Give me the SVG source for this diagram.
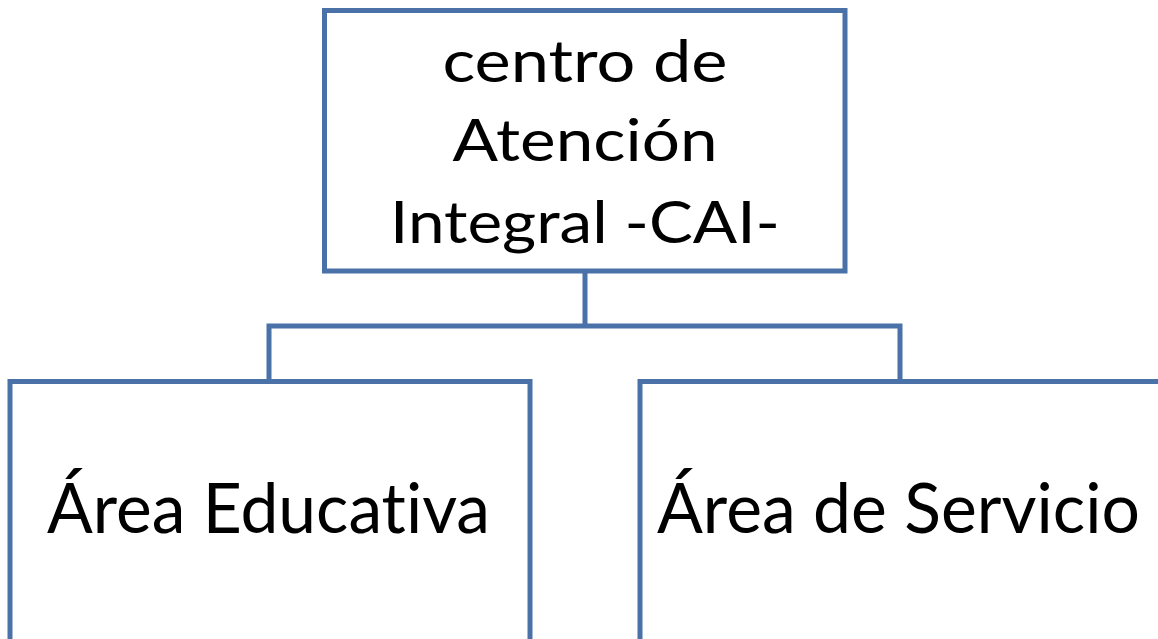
<svg xmlns="http://www.w3.org/2000/svg" width="1158" height="639" viewBox="0 0 1158 639">
<style>
.box{fill:#ffffff;stroke:#4a72a8;stroke-width:5}
.conn{fill:none;stroke:#4a72a8;stroke-width:5}
.t{font-family:Lato,"Liberation Sans",sans-serif;fill:#000000;text-anchor:middle;font-variant-ligatures:none;font-feature-settings:"liga" 0}
.t1{font-size:59px}
.t2{font-size:69px}
</style>
<rect width="1158" height="639" fill="#ffffff"/>
<g id="connectors">
<path class="conn" d="M585,271 V326 M269,326 H900 M269,323.5 V381 M900,323.5 V381"/>
</g>
<g id="node-cai">
<rect class="box" x="324.5" y="10.5" width="520.5" height="260.5"/>
<text class="t t1" x="585" y="81.5" textLength="285" lengthAdjust="spacingAndGlyphs">centro de</text>
<text class="t t1" x="585" y="161" textLength="265" lengthAdjust="spacingAndGlyphs">Atención</text>
<text class="t t1" x="585" y="243" textLength="390" lengthAdjust="spacingAndGlyphs">Integral -CAI-</text>
</g>
<g id="node-educativa">
<rect class="box" x="10" y="381.5" width="520" height="290"/>
<text class="t t2" x="268.5" y="533" textLength="443" lengthAdjust="spacingAndGlyphs">Área Educativa</text>
</g>
<g id="node-servicio">
<rect class="box" x="640" y="381.5" width="560" height="290"/>
<text class="t t2" x="898.5" y="533" textLength="483" lengthAdjust="spacingAndGlyphs">Área de Servicio</text>
</g>
</svg>
